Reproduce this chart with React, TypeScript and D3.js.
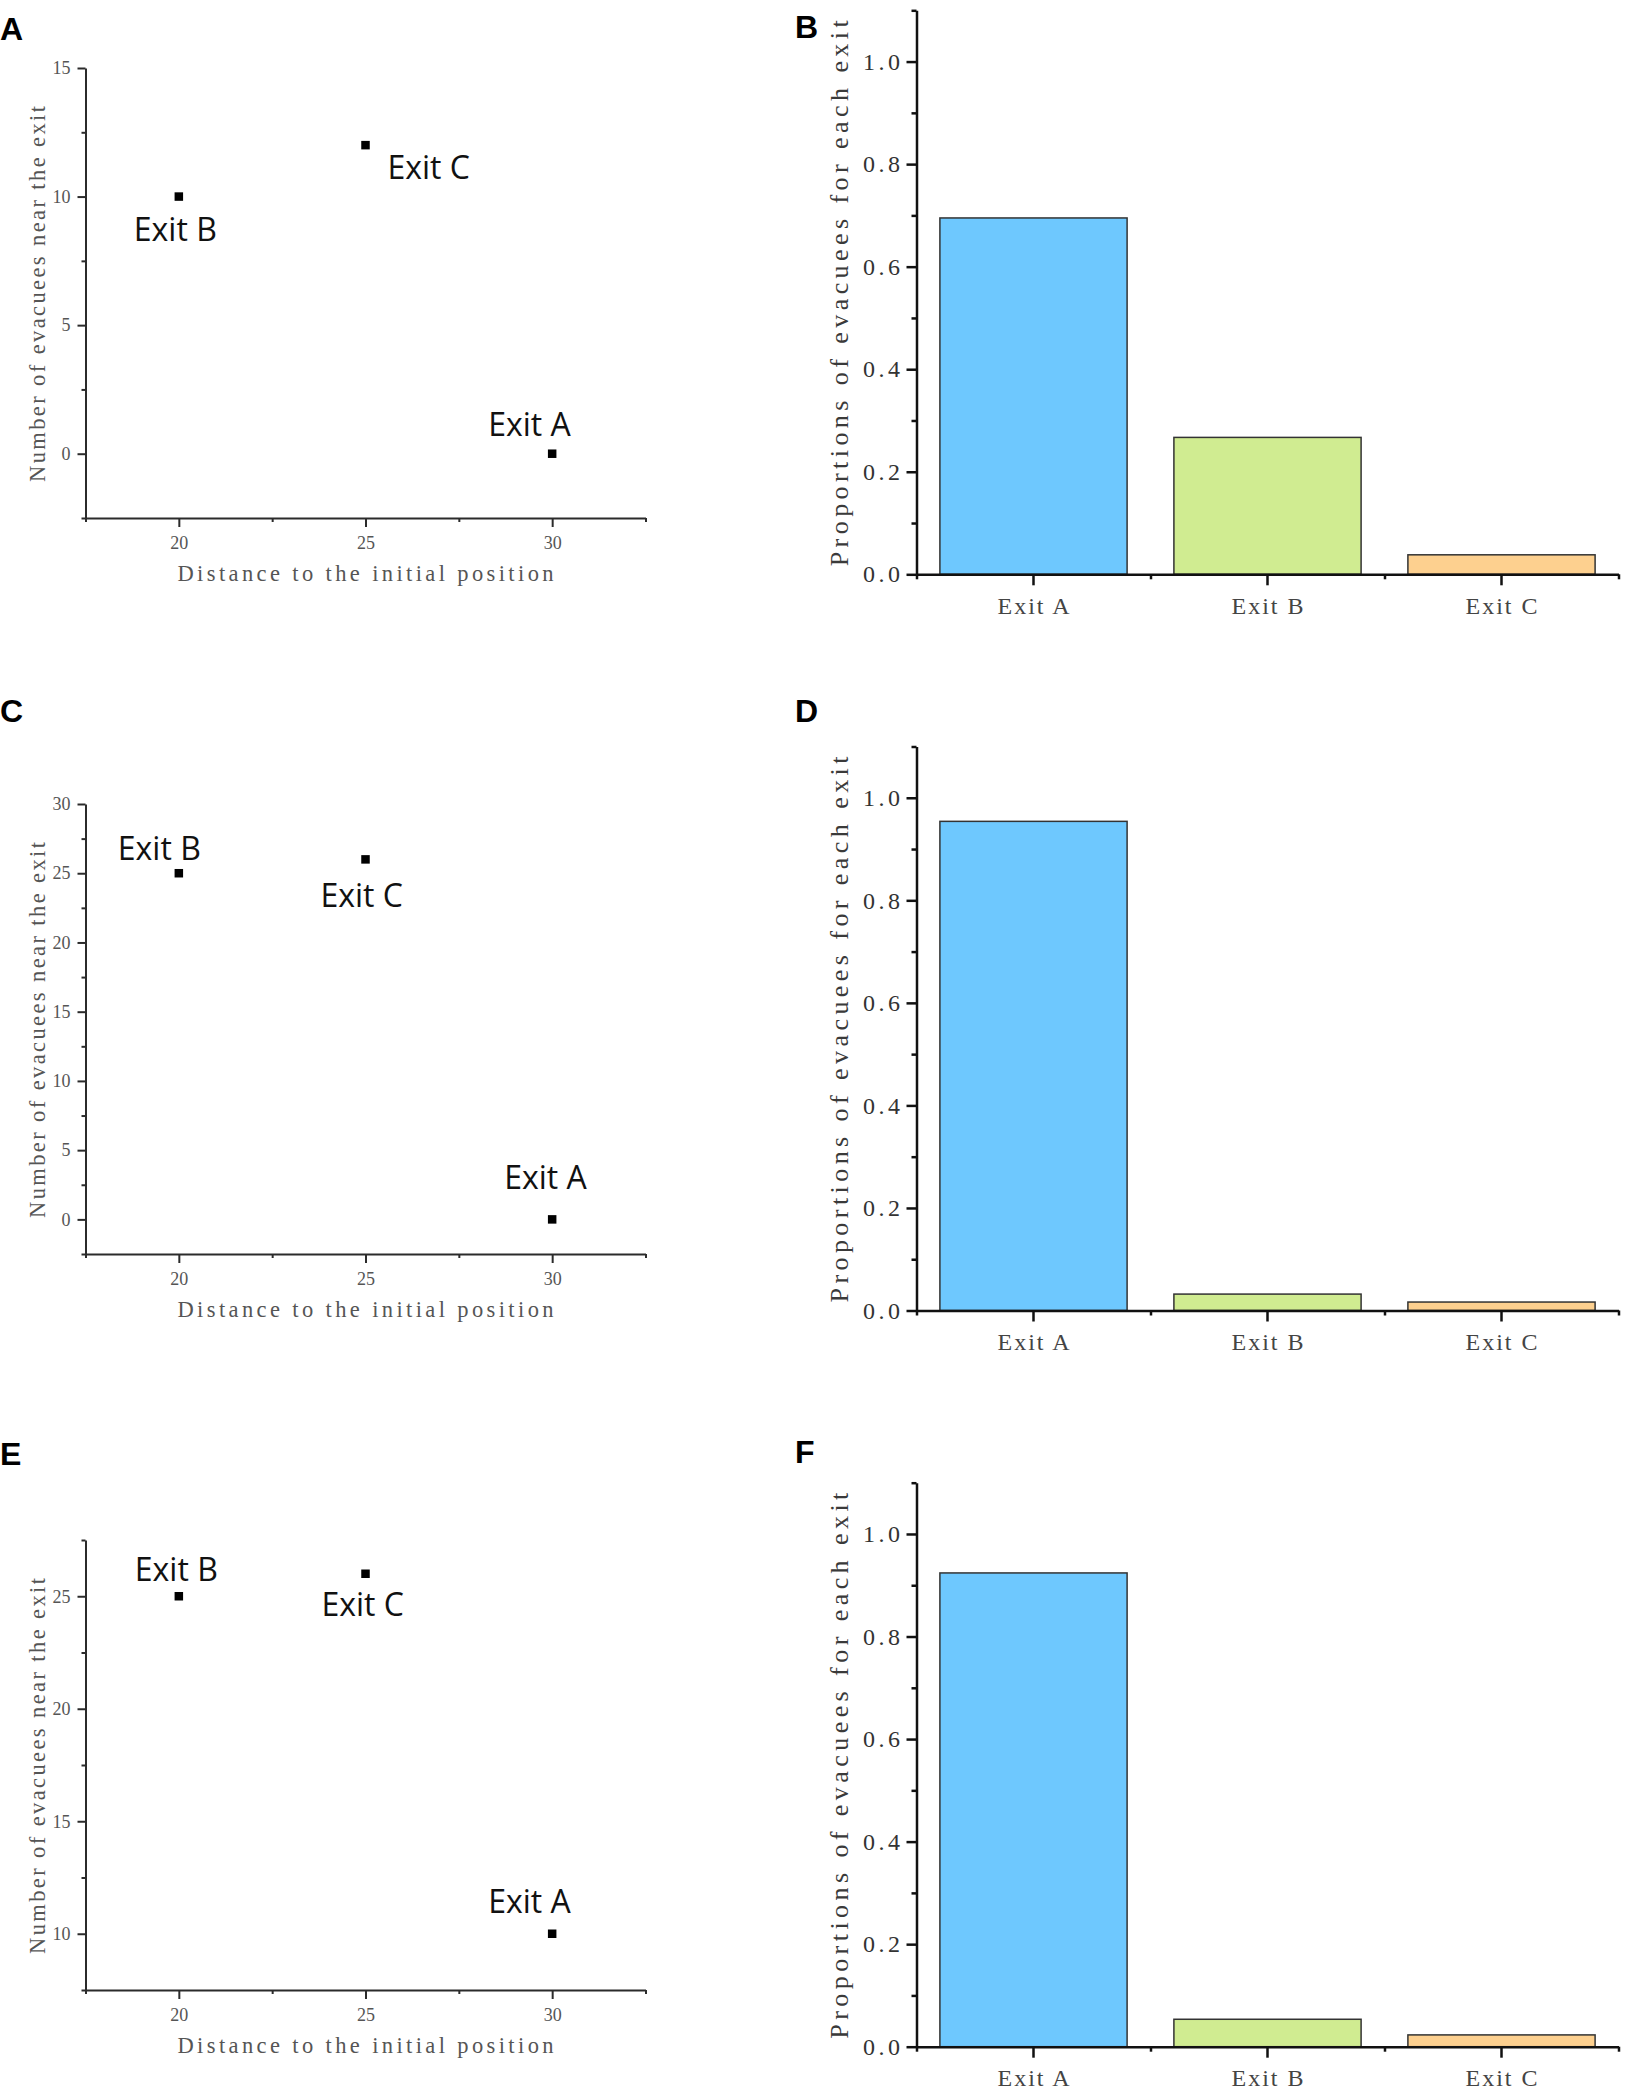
import {useEffect, useRef} from 'react';
import * as d3 from 'd3';

const W = 1637;
const H = 2096;

// categories
const exitNames = ['Exit A', 'Exit B', 'Exit C'];

// scatter panels (A, C, E): distance of each exit and evacuees waiting near it
const exitDistance = [30, 20, 25];
const evacueesA = [0, 10, 12];
const evacueesC = [0, 25, 26];
const evacueesE = [10, 25, 26];

// bar panels (B, D, F): proportion of evacuees choosing each exit
const proportionsB = [0.695, 0.267, 0.038];
const proportionsD = [0.954, 0.032, 0.0165];
const proportionsF = [0.924, 0.0535, 0.023];

// axis settings
const distanceDomain = [17.5, 32.5];
const distanceTicks = [20, 25, 30];
const distanceMinor = [17.5, 22.5, 27.5, 32.5];
const countDomains = [[-2.5, 15], [-2.5, 30], [7.5, 27.5]];
const countTicks = [[0, 5, 10, 15], [0, 5, 10, 15, 20, 25, 30], [10, 15, 20, 25]];
const proportionDomain = [0, 1.1];
const proportionTicks = [0, 0.2, 0.4, 0.6, 0.8, 1.0];
const proportionMinor = [0.1, 0.3, 0.5, 0.7, 0.9, 1.1];

const panelLetters = ['A', 'B', 'C', 'D', 'E', 'F'];
const barColors = ['#6ec8fe', '#d0ec91', '#fdd08f'];

const SERIF = '"Liberation Serif", "DejaVu Serif", serif';
const SANS = '"Open Sans", "Noto Sans", sans-serif';
const BOLD = '"Liberation Sans", Arial, sans-serif';

export default function App() {
  const svgRef = useRef<SVGSVGElement>(null);

  useEffect(() => {
    if (!svgRef.current) return;
    const svg = d3.select(svgRef.current);
    svg.selectAll('*').remove();
    svg.append('rect').attr('width', W).attr('height', H).attr('fill', '#fff');

    // layout
    const scatterTop = [68, 804, 1540];
    const scatterH = 450;
    const scatterX = [85.5, 645.5];
    const barBottom = [574.3, 1310.5, 2046.7];
    const barH = 564;
    const barX = [916.5, 1618.5];
    const letterPos = [[0, 39.5], [795, 38], [0, 722], [795, 722], [0, 1465], [795, 1463]];
    // label placement relative to marker: [dx, dy] for Exit A, B, C
    const labelOffsets = [
      [[-64, -18], [-45, 44], [22, 34]],
      [[-48, -30], [-61, -13], [-45, 48]],
      [[-64, -21], [-44, -15], [-44, 42]],
    ];

    const styleAxis = (a: any, color: string, w: number) => {
      a.select('.domain').attr('stroke', color).attr('stroke-width', w);
      a.selectAll('.tick line').attr('stroke', color).attr('stroke-width', w);
    };

    const drawScatter = (row: number, counts: number[]) => {
      const top = scatterTop[row];
      const x = d3.scaleLinear().domain(distanceDomain).range(scatterX);
      const y = d3.scaleLinear().domain(countDomains[row]).range([top + scatterH, top]);
      const g = svg.append('g');
      const axisColor = '#2b2b2b';
      const [c0, c1] = countDomains[row];
      const minorY = d3.range(c0, c1 + 0.01, 2.5).filter((v) => !countTicks[row].includes(v));

      const ya = g
        .append('g')
        .attr('transform', `translate(${scatterX[0]},0)`)
        .call(d3.axisLeft(y).tickValues(countTicks[row]).tickSize(8).tickSizeOuter(0).tickFormat(d3.format('d')));
      styleAxis(ya, axisColor, 2);
      ya.selectAll('text')
        .attr('x', -15)
        .attr('font-family', SERIF)
        .attr('font-size', 18)
        .attr('fill', '#555');
      const yam = g
        .append('g')
        .attr('transform', `translate(${scatterX[0]},0)`)
        .call(d3.axisLeft(y).tickValues(minorY).tickSize(4).tickFormat(() => ''));
      yam.select('.domain').remove();
      styleAxis(yam, axisColor, 2);

      const xa = g
        .append('g')
        .attr('transform', `translate(0,${top + scatterH})`)
        .call(d3.axisBottom(x).tickValues(distanceTicks).tickSize(9).tickSizeOuter(0).tickFormat(d3.format('d')));
      styleAxis(xa, axisColor, 2);
      xa.selectAll('text')
        .attr('y', 31)
        .attr('dy', 0)
        .attr('font-family', SERIF)
        .attr('font-size', 18)
        .attr('fill', '#555');
      const xam = g
        .append('g')
        .attr('transform', `translate(0,${top + scatterH})`)
        .call(d3.axisBottom(x).tickValues(distanceMinor).tickSize(4).tickFormat(() => ''));
      xam.select('.domain').remove();
      styleAxis(xam, axisColor, 2);

      // titles
      g.append('text')
        .attr('x', (scatterX[0] + scatterX[1]) / 2)
        .attr('y', top + scatterH + 63.4)
        .attr('text-anchor', 'middle')
        .attr('font-family', SERIF)
        .attr('font-size', 22.5)
        .attr('fill', '#555')
        .attr('textLength', 376)
        .attr('lengthAdjust', 'spacing')
        .text('Distance to the initial position');
      g.append('text')
        .attr('transform', `translate(44.5,${top + scatterH / 2 + 1}) rotate(-90)`)
        .attr('text-anchor', 'middle')
        .attr('font-family', SERIF)
        .attr('font-size', 22.5)
        .attr('fill', '#555')
        .attr('textLength', 376)
        .attr('lengthAdjust', 'spacing')
        .text('Number of evacuees near the exit');

      const pts = exitNames.map((name, i) => ({name, d: exitDistance[i], c: counts[i], off: labelOffsets[row][i]}));
      g.selectAll('rect.pt')
        .data(pts)
        .join('rect')
        .attr('class', 'pt')
        .attr('x', (p) => x(p.d) - 4.25)
        .attr('y', (p) => y(p.c) - 4.25)
        .attr('width', 8.5)
        .attr('height', 8.5)
        .attr('fill', '#000');
      g.selectAll('text.lbl')
        .data(pts)
        .join('text')
        .attr('class', 'lbl')
        .attr('x', (p) => x(p.d) + p.off[0])
        .attr('y', (p) => y(p.c) + p.off[1])
        .attr('font-family', SANS)
        .attr('font-size', 32)
        .attr('fill', '#111')
        .text((p) => p.name);
    };

    const drawBars = (row: number, values: number[]) => {
      const bottom = barBottom[row];
      const x = d3.scaleBand().domain(exitNames).range(barX).paddingInner(0.2).paddingOuter(0.1);
      const slot = d3.scaleLinear().domain([0.5, 3.5]).range(barX);
      const y = d3.scaleLinear().domain(proportionDomain).range([bottom, bottom - barH]);
      const g = svg.append('g');
      const axisColor = '#111';

      g.selectAll('rect.bar')
        .data(exitNames.map((name, i) => ({name, v: values[i], color: barColors[i]})))
        .join('rect')
        .attr('class', 'bar')
        .attr('x', (d) => x(d.name)!)
        .attr('y', (d) => y(d.v))
        .attr('width', x.bandwidth())
        .attr('height', (d) => y(0) - y(d.v))
        .attr('fill', (d) => d.color)
        .attr('stroke', '#333')
        .attr('stroke-width', 1.5);

      const ya = g
        .append('g')
        .attr('transform', `translate(${barX[0]},0)`)
        .call(d3.axisLeft(y).tickValues(proportionTicks).tickSize(10).tickSizeOuter(0).tickFormat(d3.format('.1f')));
      styleAxis(ya, axisColor, 2.5);
      ya.selectAll('text')
        .attr('x', -16.5)
        .attr('font-family', SERIF)
        .attr('font-size', 24)
        .attr('fill', '#333')
        .attr('textLength', 37)
        .attr('lengthAdjust', 'spacing');
      const yam = g
        .append('g')
        .attr('transform', `translate(${barX[0]},0)`)
        .call(d3.axisLeft(y).tickValues(proportionMinor).tickSize(5).tickFormat(() => ''));
      yam.select('.domain').remove();
      styleAxis(yam, axisColor, 2.5);

      const xa = g
        .append('g')
        .attr('transform', `translate(0,${bottom})`)
        .call(d3.axisBottom(x).tickSize(11).tickSizeOuter(0));
      styleAxis(xa, axisColor, 2.5);
      xa.selectAll('text')
        .attr('y', 39.7)
        .attr('dy', 0)
        .attr('font-family', SERIF)
        .attr('font-size', 24)
        .attr('fill', '#444')
        .attr('textLength', 72)
        .attr('lengthAdjust', 'spacing');
      const xam = g
        .append('g')
        .attr('transform', `translate(0,${bottom})`)
        .call(d3.axisBottom(slot).tickValues([0.5, 1.5, 2.5, 3.5]).tickSize(5).tickFormat(() => ''));
      xam.select('.domain').remove();
      styleAxis(xam, axisColor, 2.5);

      g.append('text')
        .attr('transform', `translate(848,${bottom - barH / 2 + 1}) rotate(-90)`)
        .attr('text-anchor', 'middle')
        .attr('font-family', SERIF)
        .attr('font-size', 26)
        .attr('fill', '#3a3a3a')
        .attr('textLength', 546)
        .attr('lengthAdjust', 'spacing')
        .text('Proportions of evacuees for each exit');
    };

    drawScatter(0, evacueesA);
    drawScatter(1, evacueesC);
    drawScatter(2, evacueesE);
    drawBars(0, proportionsB);
    drawBars(1, proportionsD);
    drawBars(2, proportionsF);

    svg
      .selectAll('text.letter')
      .data(panelLetters)
      .join('text')
      .attr('class', 'letter')
      .attr('x', (_, i) => letterPos[i][0])
      .attr('y', (_, i) => letterPos[i][1])
      .attr('font-family', BOLD)
      .attr('font-weight', 'bold')
      .attr('font-size', 32)
      .attr('fill', '#000')
      .text((d) => d);
  }, []);

  return (
    <svg
      ref={svgRef}
      width={W}
      height={H}
      style={{position: 'absolute', left: 0, top: 0, display: 'block'}}
    />
  );
}
